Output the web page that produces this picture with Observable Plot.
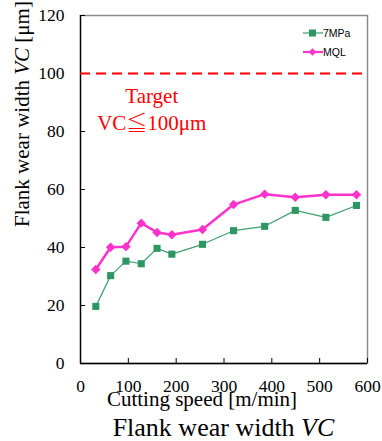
<!DOCTYPE html>
<html>
<head>
<meta charset="utf-8">
<script src="https://cdn.jsdelivr.net/npm/d3@7"></script>
<script src="https://cdn.jsdelivr.net/npm/@observablehq/plot@0.6"></script>
<style>
  html, body { margin: 0; padding: 0; background: #fff; }
  #chart { width: 382px; height: 413px; }
  #title { width: 382px; box-sizing: border-box; padding-left: 80px; padding-right: 15px; text-align: center; white-space: nowrap;
           font-family: "Liberation Serif", "Times New Roman", serif; font-size: 26px; line-height: 30px; color: #000; }
</style>
</head>
<body>
<div id="chart"></div>
<div id="title">Flank wear width <i>VC</i></div>
<script>
// ---- data ----
const cuttingSpeed = [32, 63, 95, 127, 160, 191, 255, 320, 385, 449, 513, 577];
const wear7MPa = [19.7, 30.3, 35.3, 34.4, 39.7, 37.7, 41.1, 45.8, 47.3, 52.8, 50.4, 54.5];
const wearMQL = [32.4, 40.1, 40.3, 48.4, 45.2, 44.4, 46.2, 54.8, 58.4, 57.3, 58.2, 58.2];
const seriesNames = ["7MPa", "MQL"];
const xTicks = [0, 100, 200, 300, 400, 500, 600];
const yTicks = [0, 20, 40, 60, 80, 100, 120];
const targetValue = 100;
const targetLines = ["Target", "VC≦100μm"];
const targetAnchorX = 149;
const targetAnchorY = [92.3, 82.8];
const xLabel = "Cutting speed [m/min]";
const yLabel = "Flank wear width VC [μm]";

const colors = {"7MPa": "#2e9662", "MQL": "#ff33cc"};
const lineColors = {"7MPa": "#3f9f70", "MQL": "#ff33cc"};

const rows7 = cuttingSpeed.map((s, i) => ({series: "7MPa", speed: s, wear: wear7MPa[i]}));
const rowsM = cuttingSpeed.map((s, i) => ({series: "MQL", speed: s, wear: wearMQL[i]}));
const annotations = targetLines.map((t, i) => ({x: targetAnchorX, y: targetAnchorY[i], label: t}));

function legendMark(index, scales, values, dimensions) {
  const g = d3.create("svg:g");
  const right = dimensions.width - dimensions.marginRight;
  const top = dimensions.marginTop;
  seriesNames.forEach((name, i) => {
    const y = top + 18 + i * 19;
    const c = colors[name];
    g.append("line").attr("x1", right - 64).attr("x2", right - 44).attr("y1", y).attr("y2", y)
      .attr("stroke", lineColors[name]).attr("stroke-width", name === "MQL" ? 2.2 : 1.2);
    if (name === "7MPa") {
      g.append("rect").attr("x", right - 58).attr("y", y - 3.5).attr("width", 7).attr("height", 7).attr("fill", c);
    } else {
      g.append("path").attr("d", `M${right-54.5},${y-3.8}L${right-50.7},${y}L${right-54.5},${y+3.8}L${right-58.3},${y}Z`).attr("fill", c);
    }
    g.append("text").attr("x", right - 44).attr("y", y).attr("dy", "0.36em")
      .attr("text-anchor", "start")
      .attr("font-family", "'Liberation Sans', Arial, sans-serif").attr("font-size", 10.5).attr("fill", "#000")
      .text(name);
  });
  return g.node();
}

const plot = Plot.plot({
  width: 382,
  height: 413,
  marginLeft: 80,
  marginRight: 15,
  marginTop: 15,
  marginBottom: 50,
  style: {fontFamily: "'Liberation Serif', 'Times New Roman', serif", fontSize: "17.5px", background: "#fff", color: "#000", overflow: "visible"},
  x: {domain: [0, 600]},
  y: {domain: [0, 120]},
  marks: [
    Plot.frame({stroke: "#8a8a8a", strokeWidth: 1.5}),
    Plot.ruleX([0], {stroke: "#000", strokeWidth: 1.3}),
    Plot.ruleY([0], {stroke: "#000", strokeWidth: 1.3}),
    Plot.axisY(yTicks, {tickSize: -5, tickPadding: 21, label: null, fontSize: 17.5, stroke: "#000"}),
    Plot.axisX(xTicks, {tickSize: -5, tickPadding: 21, label: null, fontSize: 17.5, stroke: "#000"}),
    Plot.ruleY([targetValue], {stroke: "#ff0000", strokeWidth: 2, strokeDasharray: "10,6"}),
    Plot.text(annotations, {x: "x", y: "y", text: "label", fill: "#ff0000", fontSize: 21}),
    Plot.line(rows7, {x: "speed", y: "wear", stroke: lineColors["7MPa"], strokeWidth: 1.2}),
    Plot.dot(rows7, {x: "speed", y: "wear", symbol: "square", fill: colors["7MPa"], r: 4}),
    Plot.line(rowsM, {x: "speed", y: "wear", stroke: colors["MQL"], strokeWidth: 2.5}),
    Plot.dot(rowsM, {x: "speed", y: "wear", symbol: "diamond2", fill: colors["MQL"], stroke: colors["MQL"], r: 3.3}),
    Plot.text([xLabel], {frameAnchor: "bottom", text: d => d, dx: -22, dy: 42, fontSize: 21}),
    Plot.text([yLabel], {frameAnchor: "left", text: d => d, rotate: -90, dx: -58, dy: 37.5, fontSize: 21}),
    legendMark
  ]
});

d3.select(plot).selectAll("text").each(function() {
  const t = d3.select(this);
  const s = t.text();
  if (s === yLabel) {
    t.text(null);
    t.append("tspan").text("Flank wear width ");
    t.append("tspan").attr("font-style", "italic").text("VC");
    t.append("tspan").text(" [μm]");
  } else if (s === targetLines[1]) {
    t.text(null);
    t.append("tspan").text("VC");
    t.append("tspan").attr("font-family", "'Noto Serif CJK JP', 'Noto Sans CJK JP', serif").text("≦");
    t.append("tspan").text("100μm");
  }
});

document.getElementById("chart").appendChild(plot);
</script>
</body>
</html>
